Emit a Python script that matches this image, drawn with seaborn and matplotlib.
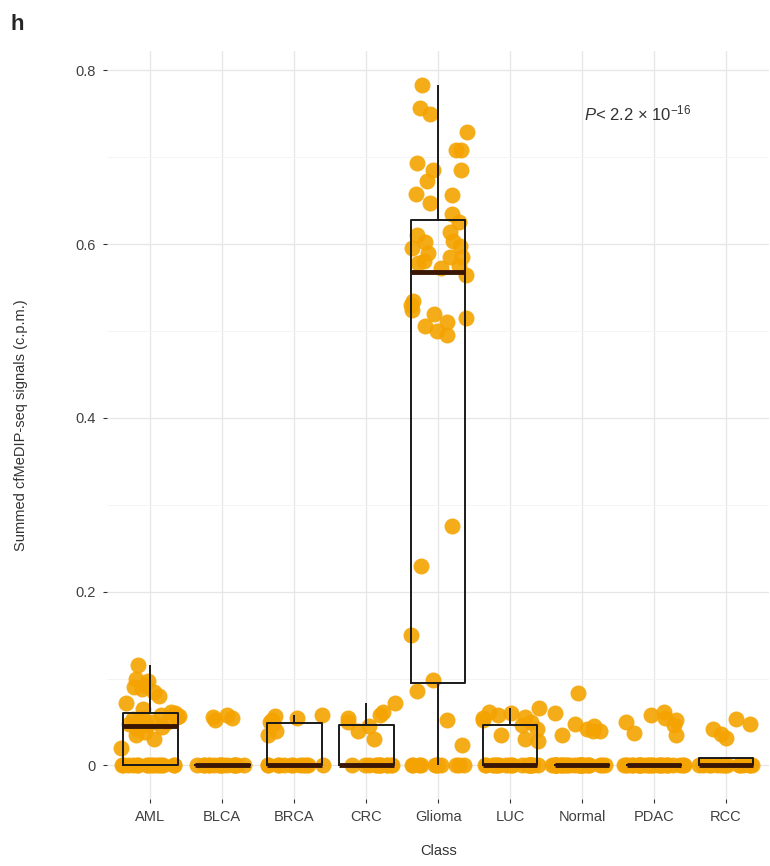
import matplotlib
matplotlib.use("Agg")
import matplotlib.pyplot as plt
import seaborn as sns
import pandas as pd
import numpy as np

# values (c.p.m.)
classes = ["AML", "BLCA", "BRCA", "CRC", "Glioma", "LUC", "Normal", "PDAC", "RCC"]

aml = [0.0] * 16 + [0.02, 0.03, 0.035, 0.038, 0.042, 0.044, 0.046, 0.048, 0.05, 0.05,
                    0.052, 0.053, 0.055, 0.056, 0.057, 0.058, 0.06, 0.061, 0.065, 0.072,
                    0.08, 0.085, 0.088, 0.09, 0.093, 0.097, 0.1, 0.115]
blca = [0.0] * 16 + [0.052, 0.054, 0.056, 0.058]
brca = [0.0] * 12 + [0.035, 0.04, 0.048, 0.05, 0.052, 0.055, 0.057, 0.058]
crc = [0.0] * 12 + [0.03, 0.04, 0.045, 0.05, 0.055, 0.058, 0.062, 0.072]
glioma = [0.0] * 11 + [0.023, 0.052, 0.086,
                       0.098, 0.15, 0.23, 0.276, 0.495, 0.5, 0.506, 0.51, 0.515, 0.52,
                       0.524, 0.53, 0.535, 0.564,
                       0.572, 0.575, 0.578, 0.58, 0.585, 0.585, 0.59, 0.595, 0.598, 0.602,
                       0.604, 0.61, 0.614, 0.625,
                       0.635, 0.647, 0.656, 0.658, 0.673, 0.685, 0.685, 0.693, 0.708, 0.708,
                       0.729, 0.75, 0.757, 0.783]
luc = [0.0] * 20 + [0.028, 0.03, 0.035, 0.042, 0.046, 0.05, 0.052, 0.054, 0.056, 0.058,
                    0.06, 0.062, 0.066]
normal = [0.0] * 28 + [0.035, 0.04, 0.04, 0.042, 0.045, 0.048, 0.06, 0.083]
pdac = [0.0] * 26 + [0.035, 0.037, 0.046, 0.05, 0.052, 0.055, 0.058, 0.061]
rcc = [0.0] * 15 + [0.032, 0.036, 0.042, 0.048, 0.053]

groups = [aml, blca, brca, crc, glioma, luc, normal, pdac, rcc]
df = pd.DataFrame({
    "Class": np.repeat(classes, [len(g) for g in groups]),
    "signal": np.concatenate(groups),
})

sns.set_theme(style="whitegrid")
plt.rcParams["font.family"] = ["Liberation Sans", "DejaVu Sans"]
plt.rcParams["mathtext.fontset"] = "custom"
plt.rcParams["mathtext.rm"] = "Liberation Sans"
plt.rcParams["mathtext.it"] = "Liberation Sans:italic"

fig = plt.figure(figsize=(7.7, 8.66), dpi=100)
ax = fig.add_axes([0.139, 0.077, 0.86, 0.864])

np.random.seed(3)
sns.stripplot(data=df, x="Class", y="signal", order=classes, color="#F4A300",
              size=11.5, jitter=0.42, linewidth=0, alpha=0.9, ax=ax)
sns.boxplot(data=df, x="Class", y="signal", order=classes, fill=False, color="#1a1a1a",
            width=0.76, showfliers=False, showcaps=False, linewidth=1.4,
            medianprops={"linewidth": 3.5, "color": "#3a1605"}, ax=ax)
# keep the box outlines above the jittered points
for ln in ax.lines:
    ln.set_zorder(5)
for p in ax.patches:
    p.set_zorder(5)

ax.set_xlim(-0.6, 8.6)
ax.set_ylim(-0.039, 0.822)
ax.set_yticks([0, 0.2, 0.4, 0.6, 0.8])
ax.set_yticklabels(["0", "0.2", "0.4", "0.6", "0.8"])
ax.set_yticks([0.1, 0.3, 0.5, 0.7], minor=True)
ax.grid(True, which="major", color="#e6e6e6", linewidth=0.9)
ax.grid(True, which="minor", axis="y", color="#f3f3f3", linewidth=0.6)
for s in ax.spines.values():
    s.set_visible(False)
ax.tick_params(axis="both", which="major", length=3, width=0.8, color="#333333",
               labelsize=10.5, labelcolor="#404040", pad=5, bottom=True, left=True)
ax.tick_params(which="minor", length=0)
ax.set_xlabel("Class", fontsize=10.5, color="#333333", labelpad=14)
ax.set_ylabel("Summed cfMeDIP-seq signals (c.p.m.)", fontsize=10.5, color="#333333",
              labelpad=34)

ax.text(6.03, 0.75, r"$\it{P}$< 2.2 × 10$^{-16}$", fontsize=12, color="#333333",
        ha="left", va="center")
fig.text(0.013, 0.972, "h", fontsize=16, fontweight="bold", ha="left", va="center")

fig.savefig("out.png", dpi=100)
